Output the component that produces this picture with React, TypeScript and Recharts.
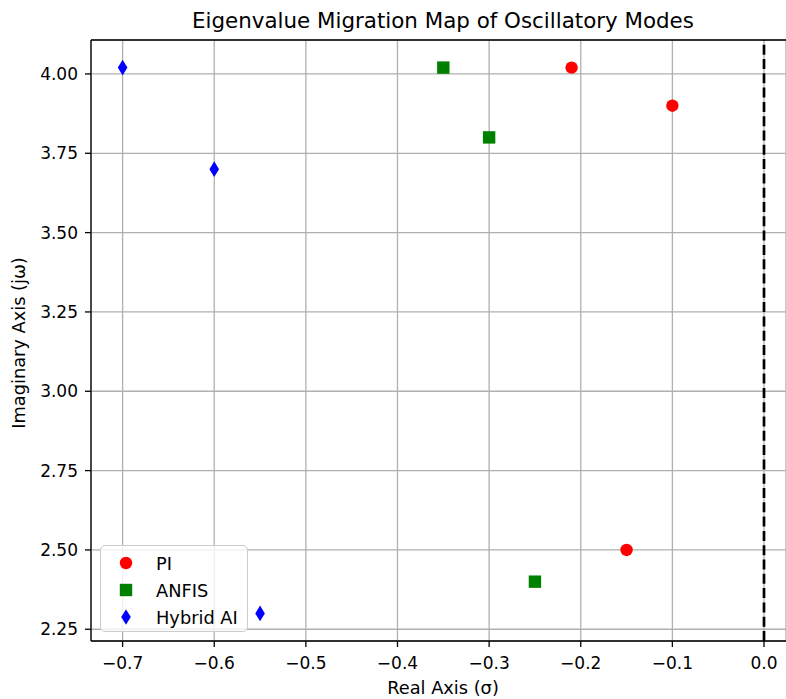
import { ScatterChart, Scatter, XAxis, YAxis, CartesianGrid, ReferenceLine } from 'recharts';

const piX = [-0.21, -0.1, -0.15];
const piY = [4.02, 3.9, 2.5];
const anfisX = [-0.35, -0.3, -0.25];
const anfisY = [4.02, 3.8, 2.4];
const hybridX = [-0.7, -0.6, -0.55];
const hybridY = [4.02, 3.7, 2.3];

const xTicks = [-0.7, -0.6, -0.5, -0.4, -0.3, -0.2, -0.1, 0.0];
const yTicks = [2.25, 2.5, 2.75, 3.0, 3.25, 3.5, 3.75, 4.0];

const toPoints = (xs: number[], ys: number[]) => xs.map((x, i) => ({ x, y: ys[i] }));

const FONT = '"DejaVu Sans", sans-serif';

const Circle = (p: any) => <circle cx={p.cx} cy={p.cy} r={6.2} fill="#ff0000" />;
const Square = (p: any) => <rect x={p.cx - 6.2} y={p.cy - 6.2} width={12.4} height={12.4} fill="#008000" />;
const Diamond = (p: any) => (
  <polygon
    points={`${p.cx},${p.cy - 7.8} ${p.cx + 4.8},${p.cy} ${p.cx},${p.cy + 7.8} ${p.cx - 4.8},${p.cy}`}
    fill="#0000ff"
  />
);

const fmtX = (v: number) => (v < 0 ? '\u2212' + Math.abs(v).toFixed(1) : v.toFixed(1));

const legendItems = [
  { name: 'PI', shape: <circle cx={10} cy={10} r={6.2} fill="#ff0000" /> },
  { name: 'ANFIS', shape: <rect x={3.8} y={3.8} width={12.4} height={12.4} fill="#008000" /> },
  { name: 'Hybrid AI', shape: <polygon points="10,2.2 14.8,10 10,17.8 5.2,10" fill="#0000ff" /> },
];

export default function App() {
  return (
    <div style={{ position: 'relative', width: 786, height: 699, overflow: 'hidden', background: '#fff', fontFamily: FONT }}>
      <style>{'body{margin:0;overflow:hidden}'}</style>
      <ScatterChart width={786} height={699} margin={{ top: 40, right: 0, bottom: 28, left: 31 }}>
        <CartesianGrid stroke="#b0b0b0" strokeWidth={1.3} />
        <XAxis
          type="number"
          dataKey="x"
          domain={[-0.7345, 0.024]}
          allowDataOverflow
          ticks={xTicks}
          tickFormatter={fmtX}
          height={30}
          tickSize={6}
          tickMargin={10}
          tick={{ fill: '#000', fontSize: 17, fontFamily: FONT }}
          tickLine={{ stroke: '#000', strokeWidth: 1.3 }}
          axisLine={{ stroke: '#000', strokeWidth: 1.3 }}
        />
        <YAxis
          type="number"
          dataKey="y"
          domain={[2.213, 4.107]}
          allowDataOverflow
          ticks={yTicks}
          tickFormatter={(v: number) => v.toFixed(2)}
          width={60}
          tickSize={6}
          tickMargin={7}
          tick={{ fill: '#000', fontSize: 17, fontFamily: FONT }}
          tickLine={{ stroke: '#000', strokeWidth: 1.3 }}
          axisLine={{ stroke: '#000', strokeWidth: 1.3 }}
        />
        <ReferenceLine y={4.107} stroke="#000" strokeWidth={1.3} ifOverflow="visible" />
        <ReferenceLine x={0} stroke="#000" strokeWidth={2.7} strokeDasharray="10 4.3" />
        <Scatter name="PI" data={toPoints(piX, piY)} shape={Circle} isAnimationActive={false} />
        <Scatter name="ANFIS" data={toPoints(anfisX, anfisY)} shape={Square} isAnimationActive={false} />
        <Scatter name="Hybrid AI" data={toPoints(hybridX, hybridY)} shape={Diamond} isAnimationActive={false} />
      </ScatterChart>

      <div style={{ position: 'absolute', left: 96, width: 694, top: 8, textAlign: 'center', fontSize: 21.4, color: '#000', whiteSpace: 'nowrap' }}>
        Eigenvalue Migration Map of Oscillatory Modes
      </div>
      <div style={{ position: 'absolute', left: 96, width: 694, top: 677, textAlign: 'center', fontSize: 17.8, color: '#000' }}>
        Real Axis (σ)
      </div>
      <div
        style={{
          position: 'absolute',
          left: 18,
          top: 343,
          transform: 'translate(-50%, -50%) rotate(-90deg)',
          whiteSpace: 'nowrap',
          fontSize: 17.8,
          color: '#000',
        }}
      >
        Imaginary Axis (jω)
      </div>

      <div
        style={{
          position: 'absolute',
          left: 100,
          top: 545,
          width: 148,
          height: 87,
          boxSizing: 'border-box',
          border: '1.3px solid #cccccc',
          borderRadius: 5,
          background: 'rgba(255,255,255,0.8)',
          fontSize: 17.8,
          color: '#000',
        }}
      >
        {legendItems.map((it, i) => (
          <div key={it.name} style={{ position: 'absolute', left: 15, top: 7 + i * 27.2, height: 20, display: 'flex', alignItems: 'center' }}>
            <svg width={20} height={20}>{it.shape}</svg>
            <span style={{ marginLeft: 20, whiteSpace: 'nowrap' }}>{it.name}</span>
          </div>
        ))}
      </div>
    </div>
  );
}
